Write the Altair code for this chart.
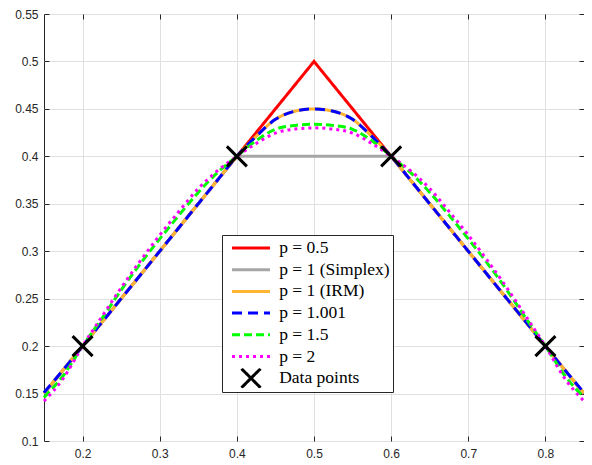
import altair as alt
import pandas as pd

# ---- data ----
series_names = ["p = 0.5", "p = 1 (Simplex)", "p = 1 (IRM)", "p = 1.001", "p = 1.5", "p = 2", "Data points"]

red_x = [0.15, 0.2, 0.4, 0.5, 0.6, 0.8, 0.85]
red_y = [0.15, 0.2, 0.4, 0.5, 0.4, 0.2, 0.15]

grey_x = [0.15, 0.2, 0.4, 0.6, 0.8, 0.85]
grey_y = [0.15, 0.2, 0.4, 0.4, 0.2, 0.15]

curve_x = [0.15, 0.175, 0.2, 0.225, 0.25, 0.275, 0.3, 0.325, 0.35, 0.375, 0.4, 0.425, 0.45, 0.475, 0.5,
           0.525, 0.55, 0.575, 0.6, 0.625, 0.65, 0.675, 0.7, 0.725, 0.75, 0.775, 0.8, 0.825, 0.85]
irm_y = [0.1505, 0.175, 0.2, 0.225, 0.25, 0.275, 0.3, 0.325, 0.35, 0.375, 0.4, 0.421, 0.439, 0.4475, 0.45,
         0.4475, 0.439, 0.421, 0.4, 0.375, 0.35, 0.325, 0.3, 0.275, 0.25, 0.225, 0.2, 0.175, 0.1505]
p1001_y = [0.151, 0.175, 0.2, 0.225, 0.25, 0.275, 0.3, 0.325, 0.35, 0.375, 0.4, 0.421, 0.439, 0.4475, 0.45,
           0.4475, 0.439, 0.421, 0.4, 0.375, 0.35, 0.325, 0.3, 0.275, 0.25, 0.225, 0.2, 0.175, 0.151]
p15_y = [0.146, 0.169, 0.2, 0.229, 0.259, 0.287, 0.313, 0.338, 0.362, 0.383, 0.4, 0.4165, 0.4285, 0.4325, 0.4338,
         0.4325, 0.4285, 0.4165, 0.4, 0.383, 0.362, 0.338, 0.313, 0.287, 0.259, 0.229, 0.2, 0.169, 0.146]
p2_y = [0.142, 0.166, 0.2, 0.231, 0.2615, 0.29, 0.317, 0.342, 0.366, 0.385, 0.4, 0.4135, 0.4245, 0.4287, 0.430,
        0.4287, 0.4245, 0.4135, 0.4, 0.385, 0.366, 0.342, 0.317, 0.29, 0.2615, 0.231, 0.2, 0.166, 0.142]

pts_x = [0.2, 0.4, 0.6, 0.8]
pts_y = [0.2, 0.4, 0.4, 0.2]

x_ticks = [0.2, 0.3, 0.4, 0.5, 0.6, 0.7, 0.8]
y_ticks = [0.1, 0.15, 0.2, 0.25, 0.3, 0.35, 0.4, 0.45, 0.5, 0.55]

colors = ["#ff0000", "#a6a6a6", "#ffb432", "#0000ff", "#00ff00", "#ff00ff", "#000000"]
dashes = [[1, 0], [1, 0], [1, 0], [10, 6], [8, 4], [3, 4], [1, 0]]
interps = ["linear", "linear", "monotone", "monotone", "monotone", "monotone"]
X_PATH = "M-0.5,-0.5L0.5,0.5M-0.5,0.5L0.5,-0.5"
shapes = ["stroke"] * 6 + [X_PATH]

rows = []
def add(name, xs, ys):
    for a, b in zip(xs, ys):
        rows.append({"series": name, "x": a, "y": b})

add(series_names[0], red_x, red_y)
add(series_names[1], grey_x, grey_y)
add(series_names[2], curve_x, irm_y)
add(series_names[3], curve_x, p1001_y)
add(series_names[4], curve_x, p15_y)
add(series_names[5], curve_x, p2_y)
add(series_names[6], pts_x, pts_y)
df = pd.DataFrame(rows)

legend = alt.Legend(
    title=None, orient="none", legendX=178, legendY=221,
    padding=3, symbolOffset=5.5, labelOffset=7.7, clipHeight=20, rowPadding=1.7,
    symbolSize=1444, symbolStrokeWidth=3, symbolFillColor="transparent",
    labelFont="Liberation Serif", labelFontSize=17.5, labelColor="black", labelLimit=400,
    strokeColor="#262626", fillColor="white",
)

color_enc = alt.Color("series:N", scale=alt.Scale(domain=series_names, range=colors), legend=legend)
dash_enc = alt.StrokeDash("series:N", scale=alt.Scale(domain=series_names, range=dashes), legend=legend)
shape_enc = alt.Shape("series:N", scale=alt.Scale(domain=series_names, range=shapes), legend=legend)

xscale = alt.Scale(domain=[0.15, 0.85], nice=False, zero=False)
yscale = alt.Scale(domain=[0.1, 0.55], nice=False, zero=False)

common_axis = dict(domain=False, tickSize=5, offset=-5, tickColor="#262626", tickWidth=1,
                   labelFont="Liberation Sans", labelFontSize=12, labelColor="#262626", title=None)

x_bottom = alt.Axis(values=x_ticks, format="~g", grid=True, gridColor="#e0e0e0", labelPadding=7,
                    orient="bottom", **common_axis)
y_left = alt.Axis(values=y_ticks, format="~g", grid=True, gridColor="#e0e0e0", labelPadding=6,
                  orient="left", **common_axis)
x_top = alt.Axis(values=x_ticks, grid=False, labels=False, orient="top", **common_axis)
y_right = alt.Axis(values=y_ticks, grid=False, labels=False, orient="right", **common_axis)


def line_layer(i, xaxis=None, yaxis=None):
    return alt.Chart(df).transform_filter(alt.datum.series == series_names[i]).mark_line(
        strokeWidth=3, interpolate=interps[i], strokeJoin="miter"
    ).encode(
        x=alt.X("x:Q", scale=xscale, axis=xaxis),
        y=alt.Y("y:Q", scale=yscale, axis=yaxis),
        color=color_enc,
        strokeDash=dash_enc,
    )

layers = [line_layer(0, x_top, y_right)] + [line_layer(i) for i in range(1, 6)]

points = alt.Chart(df).transform_filter(alt.datum.series == series_names[6]).mark_point(
    filled=False, size=1600, strokeWidth=3, opacity=1
).encode(
    x=alt.X("x:Q", scale=xscale, axis=x_bottom),
    y=alt.Y("y:Q", scale=yscale, axis=y_left),
    color=color_enc,
    shape=shape_enc,
)

chart = alt.layer(*layers, points).resolve_axis(x="independent", y="independent").properties(
    width=540, height=427,
    autosize=alt.AutoSizeParams(type="none"),
    padding={"left": 36, "top": 6, "right": 0, "bottom": 20},
).configure_view(stroke="#262626", strokeWidth=1)

chart.save("out.html", embed_options={"renderer": "svg", "actions": False})
